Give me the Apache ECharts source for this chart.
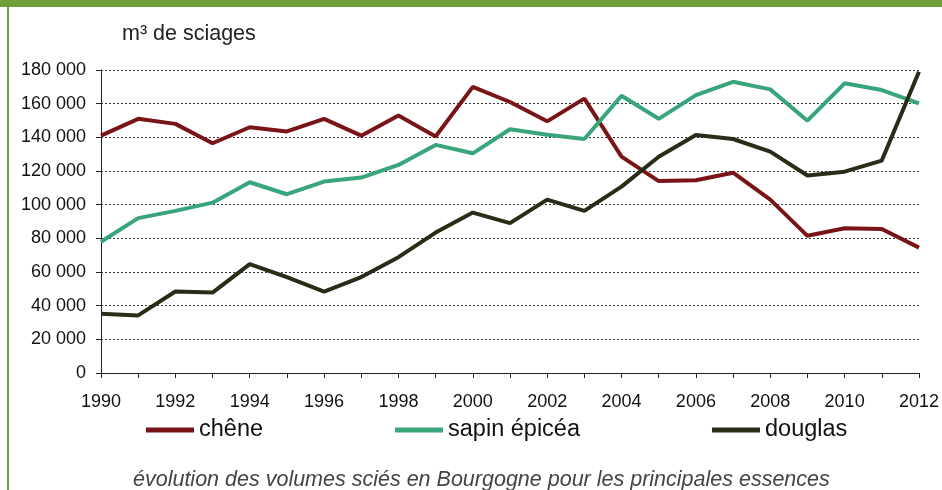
<!DOCTYPE html>
<html><head><meta charset="utf-8">
<script src="https://cdn.jsdelivr.net/npm/echarts@6/dist/echarts.min.js"></script>
<style>html,body{margin:0;padding:0;background:#fff}#c{width:942px;height:490px}</style>
</head><body><div id="c"></div>
<script>
var years = ['1990','1991','1992','1993','1994','1995','1996','1997','1998','1999','2000','2001','2002','2003','2004','2005','2006','2007','2008','2009','2010','2011','2012'];
var chene = [141000,151000,148000,136500,146000,143500,151000,141000,153000,140500,170000,161000,149500,163000,128500,114000,114500,119000,103000,81500,86000,85500,74500];
var sapinEpicea = [78000,92000,96300,101200,113300,106200,113700,116100,123600,135500,130500,144800,141500,139000,164700,151000,165100,173000,168500,149900,172100,168100,160200];
var douglas = [35200,34200,48400,47800,64700,57000,48400,57000,68800,83400,95300,89000,103000,96300,110700,128500,141400,139000,131500,117300,119600,126200,179000];
var seriesNames = ['chêne','sapin épicéa','douglas'];
var yTicks = {min:0, max:180000, step:20000};

var chart = echarts.init(document.getElementById('c'), null, {renderer:'canvas'});
var font = 'Liberation Sans, Arial, sans-serif';
function fmt(v){ return String(v).replace(/\B(?=(\d{3})+(?!\d))/g,' '); }
chart.setOption({
  animation:false,
  backgroundColor:'#fff',
  textStyle:{fontFamily:font},
  graphic:[
    {type:'rect', left:0, top:0, shape:{width:942, height:7}, style:{fill:'#6f9d37'}},
    {type:'rect', left:7, top:0, shape:{width:2, height:490}, style:{fill:'#6f9d37'}}
  ],
  title:[
    {text:'m³ de sciages', left:117, top:18, textStyle:{fontFamily:font, fontSize:21.5, fontWeight:'normal', color:'#222'}},
    {text:'évolution des volumes sciés en Bourgogne pour les principales essences', left:128, top:464,
     textStyle:{fontFamily:font, fontSize:21.5, fontStyle:'italic', fontWeight:'normal', color:'#444'}}
  ],
  legend:{
    data:seriesNames, left:141, top:413, itemGap:132, itemWidth:48, itemHeight:5, icon:'rect',
    textStyle:{fontFamily:font, fontSize:23.5, color:'#111'}
  },
  grid:{left:101, right:21, top:70, bottom:117, containLabel:false},
  xAxis:{
    type:'category', data:years, boundaryGap:false,
    axisLine:{lineStyle:{color:'#222', width:1}},
    axisTick:{show:true, interval:0, length:5, lineStyle:{color:'#222'}},
    axisLabel:{interval:1, fontFamily:font, fontSize:18, color:'#111', margin:20},
    splitLine:{show:false}
  },
  yAxis:{
    type:'value', min:yTicks.min, max:yTicks.max, interval:yTicks.step,
    axisLine:{show:true, lineStyle:{color:'#222', width:1}},
    axisTick:{show:true, length:5, lineStyle:{color:'#222'}},
    axisLabel:{fontFamily:font, fontSize:18, color:'#111', margin:15, formatter:fmt},
    splitLine:{show:true, lineStyle:{type:[2,2], color:'#333', width:1}}
  },
  series:[
    {name:seriesNames[0], type:'line', data:chene, symbol:'none', lineStyle:{width:4, color:'#7a1517'}, itemStyle:{color:'#7a1517'}},
    {name:seriesNames[1], type:'line', data:sapinEpicea, symbol:'none', lineStyle:{width:4, color:'#39a57a'}, itemStyle:{color:'#39a57a'}},
    {name:seriesNames[2], type:'line', data:douglas, symbol:'none', lineStyle:{width:4, color:'#282d17'}, itemStyle:{color:'#282d17'}}
  ]
});
</script></body></html>
